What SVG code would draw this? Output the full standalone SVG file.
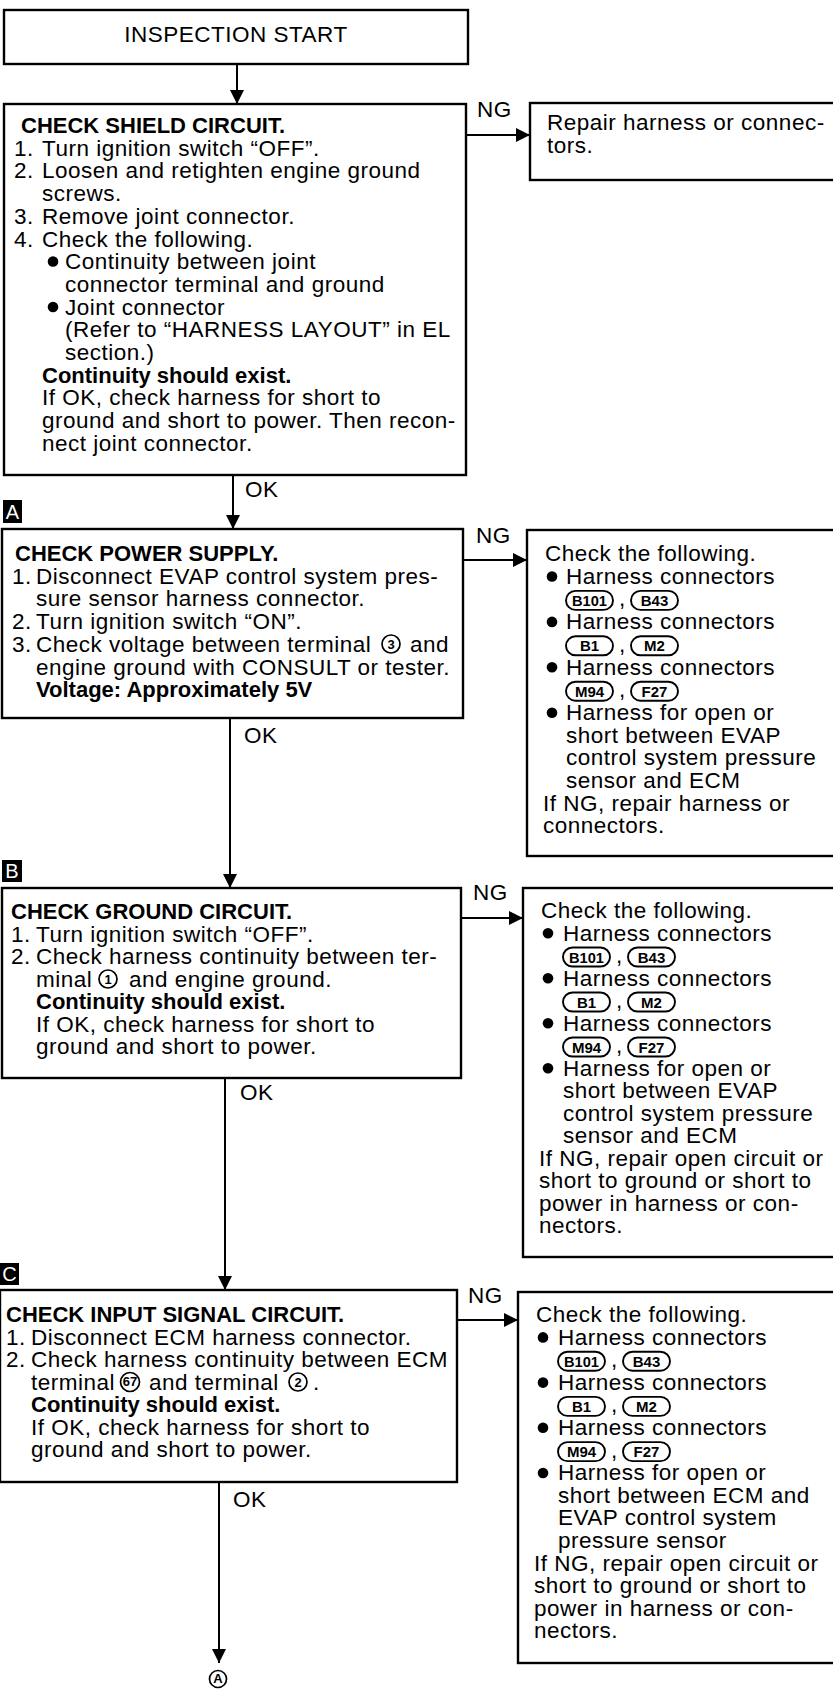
<svg xmlns="http://www.w3.org/2000/svg" width="833" height="1690" viewBox="0 0 833 1690">
<defs>
<style>
.t{font-family:"Liberation Sans",Arial,Helvetica,sans-serif;font-size:22.5px;letter-spacing:0.5px;fill:#000}
.b{font-weight:bold;font-size:22px;letter-spacing:0}
.box{fill:#fff;stroke:#000;stroke-width:2.4}
.ln{stroke:#000;stroke-width:2;fill:none}
.ov{fill:none;stroke:#000;stroke-width:1.9}
.ovt{font-family:"Liberation Sans",Arial,sans-serif;font-size:15px;font-weight:bold;text-anchor:middle;fill:#000}
.cn{fill:none;stroke:#000;stroke-width:1.7}
.cnt{font-family:"Liberation Sans",Arial,sans-serif;font-size:13px;font-weight:bold;text-anchor:middle;fill:#000}
.lab{fill:#000}
.labt{font-family:"Liberation Sans",Arial,sans-serif;font-size:20px;fill:#fff;text-anchor:middle}
</style>
<marker id="ah" viewBox="0 0 14 14" refX="14" refY="7" markerWidth="14" markerHeight="14" orient="auto" markerUnits="userSpaceOnUse">
<path d="M0,0 L14,7 L0,14 z" fill="#000"/>
</marker>
</defs>
<rect width="833" height="1690" fill="#fff"/>

<g id="connectors">
<line class="ln" x1="237" y1="64" x2="237" y2="104" marker-end="url(#ah)"/>
<line class="ln" x1="466" y1="135" x2="530" y2="135" marker-end="url(#ah)"/>
<line class="ln" x1="233" y1="475" x2="233" y2="529" marker-end="url(#ah)"/>
<line class="ln" x1="463" y1="560" x2="527" y2="560" marker-end="url(#ah)"/>
<line class="ln" x1="230" y1="718" x2="230" y2="888" marker-end="url(#ah)"/>
<line class="ln" x1="461" y1="918" x2="523" y2="918" marker-end="url(#ah)"/>
<line class="ln" x1="225" y1="1078" x2="225" y2="1290" marker-end="url(#ah)"/>
<line class="ln" x1="457" y1="1320" x2="518" y2="1320" marker-end="url(#ah)"/>
<line class="ln" x1="219" y1="1482" x2="219" y2="1663" marker-end="url(#ah)"/>
<text class="t" x="477" y="117">NG</text>
<text class="t" x="245" y="497">OK</text>
<text class="t" x="476" y="543">NG</text>
<text class="t" x="244" y="743">OK</text>
<text class="t" x="473" y="900">NG</text>
<text class="t" x="240" y="1100">OK</text>
<text class="t" x="468" y="1303">NG</text>
<text class="t" x="233" y="1507">OK</text>
</g>

<g id="start">
<rect class="box" x="4" y="10" width="464" height="54"/>
<text class="t" x="236" y="42" text-anchor="middle">INSPECTION START</text>
</g>

<g id="shield">
<rect class="box" x="4" y="104" width="462" height="371"/>
<text class="t b" x="21" y="133">CHECK SHIELD CIRCUIT.</text>
<text class="t" x="14" y="155.7">1.</text><text class="t" x="42" y="155.7">Turn ignition switch “OFF”.</text>
<text class="t" x="14" y="178.4">2.</text><text class="t" x="42" y="178.4">Loosen and retighten engine ground</text>
<text class="t" x="42" y="201.1">screws.</text>
<text class="t" x="14" y="223.8">3.</text><text class="t" x="42" y="223.8">Remove joint connector.</text>
<text class="t" x="14" y="246.5">4.</text><text class="t" x="42" y="246.5">Check the following.</text>
<circle cx="53" cy="261.5" r="5.3"/><text class="t" x="65" y="269.2">Continuity between joint</text>
<text class="t" x="65" y="291.9">connector terminal and ground</text>
<circle cx="53" cy="307" r="5.3"/><text class="t" x="65" y="314.6">Joint connector</text>
<text class="t" x="65" y="337.3">(Refer to “HARNESS LAYOUT” in EL</text>
<text class="t" x="65" y="360">section.)</text>
<text class="t b" x="42" y="382.7">Continuity should exist.</text>
<text class="t" x="42" y="405.4">If OK, check harness for short to</text>
<text class="t" x="42" y="428.1">ground and short to power. Then recon-</text>
<text class="t" x="42" y="450.8">nect joint connector.</text>
</g>

<g id="repair">
<rect class="box" x="530" y="103" width="312" height="77"/>
<text class="t" x="547" y="130">Repair harness or connec-</text>
<text class="t" x="547" y="153">tors.</text>
</g>

<g id="labelA">
<rect class="lab" x="3" y="500" width="19" height="23"/>
<text class="labt" x="12.5" y="519">A</text>
</g>

<g id="power">
<rect class="box" x="2" y="529" width="461" height="189"/>
<text class="t b" x="15" y="561">CHECK POWER SUPPLY.</text>
<text class="t" x="12" y="583.7">1.</text><text class="t" x="36" y="583.7">Disconnect EVAP control system pres-</text>
<text class="t" x="36" y="606.4">sure sensor harness connector.</text>
<text class="t" x="12" y="629.1">2.</text><text class="t" x="36" y="629.1">Turn ignition switch “ON”.</text>
<text class="t" x="12" y="651.8">3.</text><text class="t" x="36" y="651.8">Check voltage between terminal</text>
<circle class="cn" cx="391" cy="644" r="9"/><text class="cnt" x="391" y="648.7">3</text>
<text class="t" x="410" y="651.8">and</text>
<text class="t" x="36" y="674.5">engine ground with CONSULT or tester.</text>
<text class="t b" x="36" y="697.2">Voltage: Approximately 5V</text>
</g>

<g id="powerNG">
<rect class="box" x="527" y="530" width="315" height="326"/>
<text class="t" x="545" y="561">Check the following.</text>
<circle cx="552" cy="576.5" r="5.3"/><text class="t" x="566" y="583.7">Harness connectors</text>
<rect class="ov" x="566" y="590.9" width="47" height="19" rx="9.5"/><text class="ovt" x="589.5" y="605.9" textLength="35" lengthAdjust="spacingAndGlyphs">B101</text>
<text class="t" x="619" y="606.4">,</text>
<rect class="ov" x="631" y="590.9" width="47" height="19" rx="9.5"/><text class="ovt" x="654.5" y="605.9">B43</text>
<circle cx="552" cy="621.9" r="5.3"/><text class="t" x="566" y="629.1">Harness connectors</text>
<rect class="ov" x="566" y="636.3" width="47" height="19" rx="9.5"/><text class="ovt" x="589.5" y="651.3">B1</text>
<text class="t" x="619" y="651.8">,</text>
<rect class="ov" x="631" y="636.3" width="47" height="19" rx="9.5"/><text class="ovt" x="654.5" y="651.3">M2</text>
<circle cx="552" cy="667.3" r="5.3"/><text class="t" x="566" y="674.5">Harness connectors</text>
<rect class="ov" x="566" y="681.7" width="47" height="19" rx="9.5"/><text class="ovt" x="589.5" y="696.7">M94</text>
<text class="t" x="619" y="697.2">,</text>
<rect class="ov" x="631" y="681.7" width="47" height="19" rx="9.5"/><text class="ovt" x="654.5" y="696.7">F27</text>
<circle cx="552" cy="712.7" r="5.3"/><text class="t" x="566" y="719.9">Harness for open or</text>
<text class="t" x="566" y="742.6">short between EVAP</text>
<text class="t" x="566" y="765.3">control system pressure</text>
<text class="t" x="566" y="788">sensor and ECM</text>
<text class="t" x="543" y="810.7">If NG, repair harness or</text>
<text class="t" x="543" y="833.4">connectors.</text>
</g>

<g id="labelB">
<rect class="lab" x="2" y="860" width="20" height="22"/>
<text class="labt" x="12" y="878">B</text>
</g>

<g id="ground">
<rect class="box" x="2" y="888" width="459" height="190"/>
<text class="t b" x="11" y="919">CHECK GROUND CIRCUIT.</text>
<text class="t" x="11" y="941.5">1.</text><text class="t" x="36" y="941.5">Turn ignition switch “OFF”.</text>
<text class="t" x="11" y="964">2.</text><text class="t" x="36" y="964">Check harness continuity between ter-</text>
<text class="t" x="36" y="986.5">minal</text>
<circle class="cn" cx="108" cy="979" r="9"/><text class="cnt" x="108" y="983.7">1</text>
<text class="t" x="129" y="986.5">and engine ground.</text>
<text class="t b" x="36" y="1009">Continuity should exist.</text>
<text class="t" x="36" y="1031.5">If OK, check harness for short to</text>
<text class="t" x="36" y="1054">ground and short to power.</text>
</g>

<g id="groundNG">
<rect class="box" x="523" y="888" width="319" height="369"/>
<text class="t" x="541" y="918">Check the following.</text>
<circle cx="548" cy="933.3" r="5.3"/><text class="t" x="563" y="940.5">Harness connectors</text>
<rect class="ov" x="563" y="947.5" width="47" height="19" rx="9.5"/><text class="ovt" x="586.5" y="962.5" textLength="35" lengthAdjust="spacingAndGlyphs">B101</text>
<text class="t" x="616" y="963">,</text>
<rect class="ov" x="628" y="947.5" width="47" height="19" rx="9.5"/><text class="ovt" x="651.5" y="962.5">B43</text>
<circle cx="548" cy="978.3" r="5.3"/><text class="t" x="563" y="985.5">Harness connectors</text>
<rect class="ov" x="563" y="992.5" width="47" height="19" rx="9.5"/><text class="ovt" x="586.5" y="1007.5">B1</text>
<text class="t" x="616" y="1008">,</text>
<rect class="ov" x="628" y="992.5" width="47" height="19" rx="9.5"/><text class="ovt" x="651.5" y="1007.5">M2</text>
<circle cx="548" cy="1023.3" r="5.3"/><text class="t" x="563" y="1030.5">Harness connectors</text>
<rect class="ov" x="563" y="1037.5" width="47" height="19" rx="9.5"/><text class="ovt" x="586.5" y="1052.5">M94</text>
<text class="t" x="616" y="1053">,</text>
<rect class="ov" x="628" y="1037.5" width="47" height="19" rx="9.5"/><text class="ovt" x="651.5" y="1052.5">F27</text>
<circle cx="548" cy="1068.3" r="5.3"/><text class="t" x="563" y="1075.5">Harness for open or</text>
<text class="t" x="563" y="1098">short between EVAP</text>
<text class="t" x="563" y="1120.5">control system pressure</text>
<text class="t" x="563" y="1143">sensor and ECM</text>
<text class="t" x="539" y="1165.5">If NG, repair open circuit or</text>
<text class="t" x="539" y="1188">short to ground or short to</text>
<text class="t" x="539" y="1210.5">power in harness or con-</text>
<text class="t" x="539" y="1233">nectors.</text>
</g>

<g id="labelC">
<rect class="lab" x="0" y="1263" width="19" height="22"/>
<text class="labt" x="9.5" y="1281">C</text>
</g>

<g id="input">
<rect class="box" x="0" y="1290" width="457" height="192"/>
<text class="t b" x="6" y="1322">CHECK INPUT SIGNAL CIRCUIT.</text>
<text class="t" x="6" y="1344.5">1.</text><text class="t" x="31" y="1344.5">Disconnect ECM harness connector.</text>
<text class="t" x="6" y="1367">2.</text><text class="t" x="31" y="1367">Check harness continuity between ECM</text>
<text class="t" x="31" y="1389.5">terminal</text>
<circle class="cn" cx="130" cy="1382" r="9.5"/><text class="cnt" x="130" y="1386.3" font-size="11.5">67</text>
<text class="t" x="149" y="1389.5">and terminal</text>
<circle class="cn" cx="298" cy="1382" r="9"/><text class="cnt" x="298" y="1386.7">2</text>
<text class="t" x="313" y="1389.5">.</text>
<text class="t b" x="31" y="1412">Continuity should exist.</text>
<text class="t" x="31" y="1434.5">If OK, check harness for short to</text>
<text class="t" x="31" y="1457">ground and short to power.</text>
</g>

<g id="inputNG">
<rect class="box" x="518" y="1292" width="324" height="371"/>
<text class="t" x="536" y="1322">Check the following.</text>
<circle cx="543" cy="1337.4" r="5.3"/><text class="t" x="558" y="1344.6">Harness connectors</text>
<rect class="ov" x="558" y="1351.7" width="47" height="19" rx="9.5"/><text class="ovt" x="581.5" y="1366.7" textLength="35" lengthAdjust="spacingAndGlyphs">B101</text>
<text class="t" x="611" y="1367.2">,</text>
<rect class="ov" x="623" y="1351.7" width="47" height="19" rx="9.5"/><text class="ovt" x="646.5" y="1366.7">B43</text>
<circle cx="543" cy="1382.6" r="5.3"/><text class="t" x="558" y="1389.8">Harness connectors</text>
<rect class="ov" x="558" y="1396.9" width="47" height="19" rx="9.5"/><text class="ovt" x="581.5" y="1411.9">B1</text>
<text class="t" x="611" y="1412.4">,</text>
<rect class="ov" x="623" y="1396.9" width="47" height="19" rx="9.5"/><text class="ovt" x="646.5" y="1411.9">M2</text>
<circle cx="543" cy="1427.8" r="5.3"/><text class="t" x="558" y="1435">Harness connectors</text>
<rect class="ov" x="558" y="1442.1" width="47" height="19" rx="9.5"/><text class="ovt" x="581.5" y="1457.1">M94</text>
<text class="t" x="611" y="1457.6">,</text>
<rect class="ov" x="623" y="1442.1" width="47" height="19" rx="9.5"/><text class="ovt" x="646.5" y="1457.1">F27</text>
<circle cx="543" cy="1473" r="5.3"/><text class="t" x="558" y="1480.2">Harness for open or</text>
<text class="t" x="558" y="1502.8">short between ECM and</text>
<text class="t" x="558" y="1525.4">EVAP control system</text>
<text class="t" x="558" y="1548">pressure sensor</text>
<text class="t" x="534" y="1570.6">If NG, repair open circuit or</text>
<text class="t" x="534" y="1593.2">short to ground or short to</text>
<text class="t" x="534" y="1615.8">power in harness or con-</text>
<text class="t" x="534" y="1638.4">nectors.</text>
</g>

<g id="connectorA">
<circle class="cn" cx="218" cy="1679" r="8.5"/>
<text class="cnt" x="218" y="1683.3" font-size="11">A</text>
</g>
</svg>
